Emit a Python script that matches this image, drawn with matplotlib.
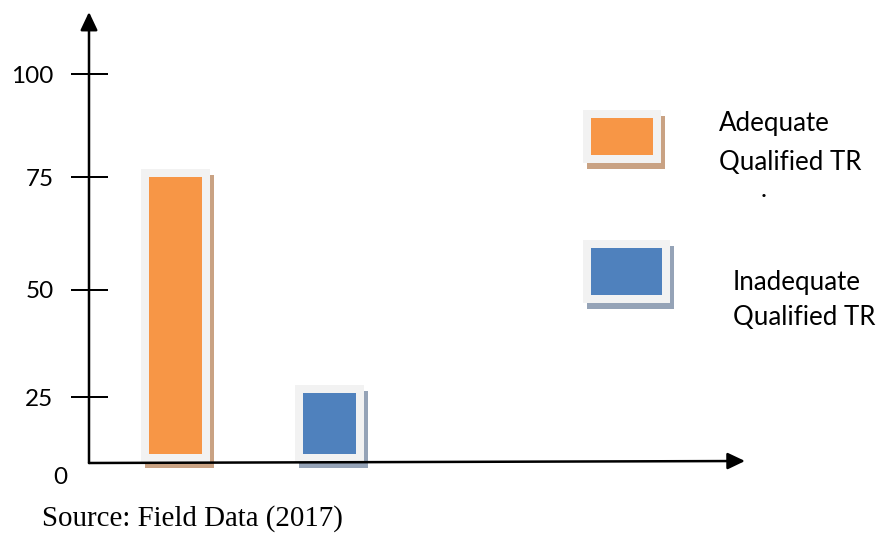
import numpy as np
import matplotlib
matplotlib.use("Agg")
import matplotlib.pyplot as plt
from matplotlib.patches import Rectangle
from matplotlib.transforms import ScaledTranslation

# ---- data ----
categories = ["Adequate\nQualified TR", "Inadequate\nQualified TR"]
values = [75, 26]
tick_values = [25, 50, 75, 100]
tick_labels = ["25", "50", "75", "100"]
source_text = "Source: Field Data (2017)"

# ---- style ----
W, H, DPI = 883, 533, 100
colors = ["#f79646", "#4f81bd"]
shadow_colors = ["#c9a283", "#95a3b7"]
frame_color = "#f2f2f2"
base = 3.5  # small gap the hand-drawn bars leave above the axis
ui_font = ["Lato", "DejaVu Sans"]
serif_font = ["Liberation Serif", "DejaVu Serif"]

# hand-drawn (non-uniform) value scale read from the tick positions
scale_vals = [0, 25, 50, 75, 100, 115]
scale_pos = [0, 0.1463, 0.3836, 0.6341, 0.8625, 1.0]

def fwd(v):
    return np.interp(v, scale_vals, scale_pos)

def inv(p):
    return np.interp(p, scale_pos, scale_vals)

px = 72.0 / DPI  # points per pixel

fig = plt.figure(figsize=(W / DPI, H / DPI), dpi=DPI)
ax = fig.add_axes([89 / W, 70 / H, 656 / W, 451 / H])
ax.set_yscale("function", functions=(fwd, inv))
ax.set_ylim(0, 115)
ax.set_xlim(-0.5617, 3.698)

for s in ax.spines.values():
    s.set_visible(False)

x = np.arange(len(values))
heights = [v - base for v in values]
frame_lw = 16 * px

# shadow
sh = ax.bar(x, heights, bottom=base, width=0.35, color=shadow_colors,
            edgecolor=shadow_colors, linewidth=frame_lw, zorder=1, clip_on=False)
off = ScaledTranslation(4 / DPI, -6 / DPI, fig.dpi_scale_trans)
for p in sh:
    p.set_transform(ax.transData + off)
    p.set_joinstyle("miter")
# frame
fr = ax.bar(x, heights, bottom=base, width=0.35, color=frame_color,
            edgecolor=frame_color, linewidth=frame_lw, zorder=2, clip_on=False)
for p in fr:
    p.set_joinstyle("miter")
# coloured bars
ax.bar(x, heights, bottom=base, width=0.35, color=colors, linewidth=0,
       zorder=3, clip_on=False)

# axes arrows
axis_lw = 2.5 * px
ax.annotate("", xy=(0, 1.0), xytext=(0, 0), xycoords="axes fraction",
            arrowprops=dict(arrowstyle="-|>,head_length=1.1,head_width=0.52",
                            mutation_scale=10, lw=axis_lw, color="black",
                            shrinkA=0, shrinkB=0), zorder=6)
ax.annotate("", xy=(1.0, 2 / 451), xytext=(0, 0), xycoords="axes fraction",
            arrowprops=dict(arrowstyle="-|>,head_length=1.05,head_width=0.5",
                            mutation_scale=10, lw=axis_lw, color="black",
                            shrinkA=0, shrinkB=0), zorder=6)

ax.set_xticks([])
ax.set_yticks(tick_values)
ax.set_yticklabels(tick_labels, fontfamily=ui_font, fontsize=17.5)
ax.yaxis.set_minor_locator(matplotlib.ticker.NullLocator())
ax.tick_params(axis="y", direction="inout", length=37 * px, width=2 * px,
               pad=17 * px, colors="black")
ax.annotate("0", xy=(0, 0), xycoords=("axes fraction", "data"),
            xytext=(-29 * px, -15 * px), textcoords="offset points",
            ha="center", va="center", fontfamily=ui_font, fontsize=17.5)

# ---- legend (drawn in figure pixels) ----
def fx(p):
    return p / W

def fy(p):
    return 1 - p / H

legend_boxes = [(591, 118, 653, 155), (591, 248, 662, 295)]
for (x0, y0, x1, y1), c, sc in zip(legend_boxes, colors, shadow_colors):
    rect_args = ((fx(x0), fy(y1)), fx(x1) - fx(x0), fy(y0) - fy(y1))
    shadow = Rectangle(*rect_args, facecolor=sc, edgecolor=sc, linewidth=frame_lw,
                       joinstyle="miter",
                       transform=fig.transFigure + ScaledTranslation(4 / DPI, -6 / DPI, fig.dpi_scale_trans))
    frame = Rectangle(*rect_args, facecolor=frame_color, edgecolor=frame_color,
                      linewidth=frame_lw, joinstyle="miter", transform=fig.transFigure)
    inner = Rectangle(*rect_args, facecolor=c, linewidth=0, transform=fig.transFigure)
    for r in (shadow, frame, inner):
        fig.add_artist(r)

label_pos = [(719, 131, 170), (733, 290, 325)]
for cat, (lx, b1, b2) in zip(categories, label_pos):
    l1, l2 = cat.split("\n")
    fig.text(fx(lx), fy(b1), l1, fontfamily=ui_font, fontsize=18.6, va="baseline", ha="left")
    fig.text(fx(lx), fy(b2), l2, fontfamily=ui_font, fontsize=18.6, va="baseline", ha="left")
fig.text(fx(761), fy(197), ".", fontfamily=ui_font, fontsize=18.6, va="baseline", ha="left")

fig.text(fx(42), fy(526), source_text, fontfamily=serif_font, fontsize=20.8,
         va="baseline", ha="left")

fig.savefig("out.png", dpi=DPI)
